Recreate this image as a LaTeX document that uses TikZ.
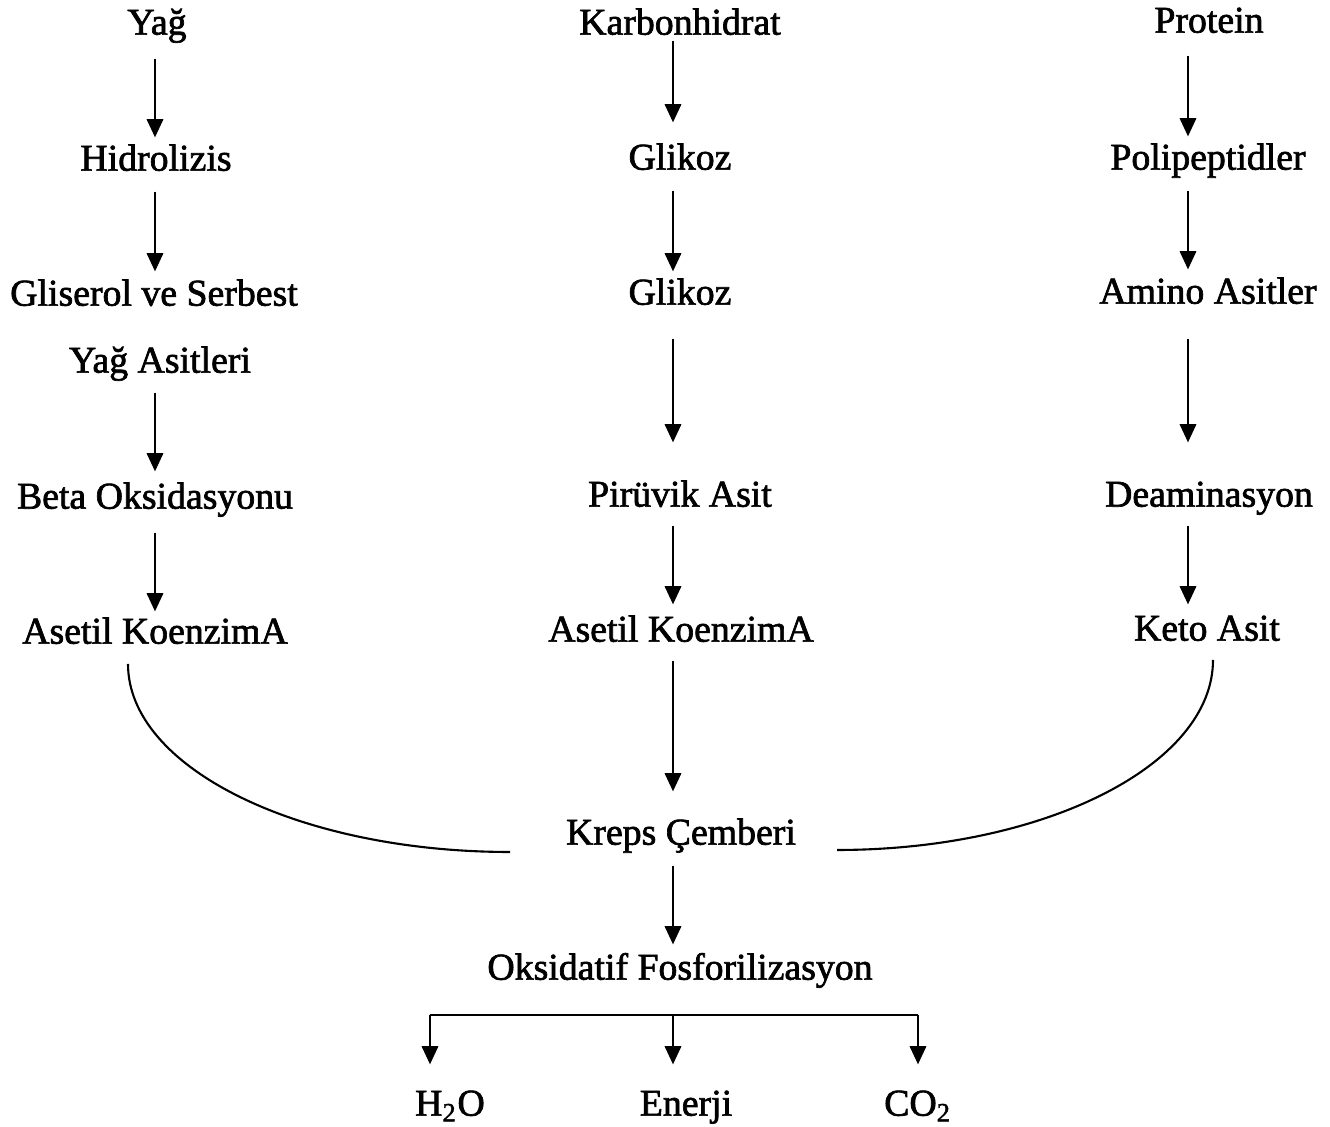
\documentclass[tikz,border=0pt]{standalone}
\usepackage{fontspec}
\setmainfont{Liberation Serif}[BoldFont={Liberation Serif}, BoldFeatures={FakeBold=1.8}]
\usetikzlibrary{arrows.meta,calc}

\begin{document}
\begin{tikzpicture}[
  lbl/.style={
    inner sep=0pt, text height=8.1pt, text depth=0.9pt,
    font=\fontsize{10.75}{13}\selectfont\bfseries, text=black
  },
  arr/.style={-{Triangle[width=4.6pt,length=5.2pt]}, line width=0.8pt, black,
    shorten <=0.17cm, shorten >=0.05cm},
  bar/.style={line width=0.8pt, black},
  curve/.style={line width=0.6pt, black}
]
\useasboundingbox (0,0) rectangle (13.30,-11.27);

%=== SOURCES ===
\node[lbl] (yag)  at ( 1.57,-0.22) {Yağ};
\node[lbl] (karb) at ( 6.80,-0.22) {Karbonhidrat};
\node[lbl] (prot) at (12.09,-0.20) {Protein};

%=== LEFT COLUMN (YAG) ===
\node[lbl] (hidro)   at (1.56,-1.58) {Hidrolizis};
\node[lbl] (glis)    at (1.54,-2.93) {Gliserol ve Serbest};
\node[lbl] (yagasit) at (1.60,-3.60) {Yağ Asitleri};
\node[lbl] (beta)    at (1.55,-4.96) {Beta Oksidasyonu};
\node[lbl] (asetL)   at (1.55,-6.31) {Asetil KoenzimA};

%=== MIDDLE COLUMN (KARBONHIDRAT) ===
\node[lbl] (glikA) at (6.80,-1.57) {Glikoz};
\node[lbl] (glikB) at (6.80,-2.92) {Glikoz};
\node[lbl] (piru)  at (6.80,-4.94) {Pirüvik Asit};
\node[lbl] (asetM) at (6.81,-6.29) {Asetil KoenzimA};

%=== RIGHT COLUMN (PROTEIN) ===
\node[lbl] (polip) at (12.08,-1.57) {Polipeptidler};
\node[lbl] (amino) at (12.08,-2.91) {Amino Asitler};
\node[lbl] (deam)  at (12.09,-4.94) {Deaminasyon};
\node[lbl] (keto)  at (12.07,-6.28) {Keto Asit};

%=== COMMON PATH ===
\node[lbl] (kreps)  at (6.81,-8.32) {Kreps Çemberi};
\node[lbl] (oksfos) at (6.80,-9.67) {Oksidatif Fosforilizasyon};

%=== PRODUCTS ===
\node[lbl] (su)     at (4.50,-11.03) {H\textsubscript{2}O};
\node[lbl] (enerji) at (6.86,-11.03) {Enerji};
\node[lbl] (co2)    at (9.18,-11.03) {CO\textsubscript{2}};

%=== LEFT ARROWS ===
\draw[arr, shorten <=0.20cm, shorten >=0.04cm] ([xshift=-0.02cm]yag.south) -- ([xshift=-0.02cm]yag.south |- hidro.north);
\draw[arr] ([xshift=-0.01cm]hidro.south) -- ([xshift=-0.01cm]hidro.south |- glis.north);
\draw[arr, shorten <=0.16cm, shorten >=0.08cm] ([xshift=-0.05cm]yagasit.south) -- ([xshift=-0.05cm]yagasit.south |- beta.north);
\draw[arr, shorten <=0.20cm, shorten >=0.03cm] (beta.south) -- (asetL.north);

%=== MIDDLE ARROWS ===
\draw[arr, shorten <=0.02cm, shorten >=0.18cm] ([xshift=-0.07cm]karb.south) -- ([xshift=-0.07cm]glikA.north);
\draw[arr, shorten >=0.04cm] ([xshift=-0.07cm]glikA.south) -- ([xshift=-0.07cm]glikB.north);
\draw[arr, shorten <=0.30cm, shorten >=0.35cm] ([xshift=-0.07cm]glikB.south) -- ([xshift=-0.07cm]piru.north);
\draw[arr, shorten <=0.15cm, shorten >=0.08cm] ([xshift=-0.07cm]piru.south) -- ([xshift=-0.07cm]piru.south |- asetM.north);
\draw[arr, shorten <=0.15cm, shorten >=0.24cm] ([xshift=-0.08cm]asetM.south) -- ([xshift=-0.08cm]asetM.south |- kreps.north);
\draw[arr, shorten >=0.06cm] ([xshift=-0.08cm]kreps.south) -- ([xshift=-0.08cm]kreps.south |- oksfos.north);

%=== RIGHT ARROWS ===
\draw[arr, shorten <=0.19cm, shorten >=0.04cm] ([xshift=-0.21cm]prot.south) -- ([xshift=-0.21cm]prot.south |- polip.north);
\draw[arr] ([xshift=-0.20cm]polip.south) -- ([xshift=-0.20cm]amino.north);
\draw[arr, shorten <=0.31cm, shorten >=0.35cm] ([xshift=-0.20cm]amino.south) -- ([xshift=-0.20cm]amino.south |- deam.north);
\draw[arr, shorten <=0.15cm, shorten >=0.07cm] ([xshift=-0.21cm]deam.south) -- ([xshift=-0.21cm]deam.south |- keto.north);

%=== CONVERGING CURVES ===
\draw[curve] ($(asetL.center)+(-0.27,-0.33)$)
  arc[start angle=180, end angle=270, x radius=3.82, y radius=1.88];
\draw[curve] ($(keto.center)+(0.06,-0.32)$)
  arc[start angle=0, end angle=-90, x radius=3.76, y radius=1.90];

%=== BRANCHING TO PRODUCTS ===
\coordinate (barL) at (4.30,-10.15);
\coordinate (barM) at (6.73,-10.15);
\coordinate (barR) at (9.18,-10.15);
\draw[bar] (barL) -- (barR);
\draw[arr, shorten <=0pt, shorten >=0.22cm] (barL) -- (barL |- su.north);
\draw[arr, shorten <=0pt, shorten >=0.22cm] (barM) -- (barM |- enerji.north);
\draw[arr, shorten <=0pt, shorten >=0.22cm] (barR) -- (barR |- co2.north);

\end{tikzpicture}
\end{document}
